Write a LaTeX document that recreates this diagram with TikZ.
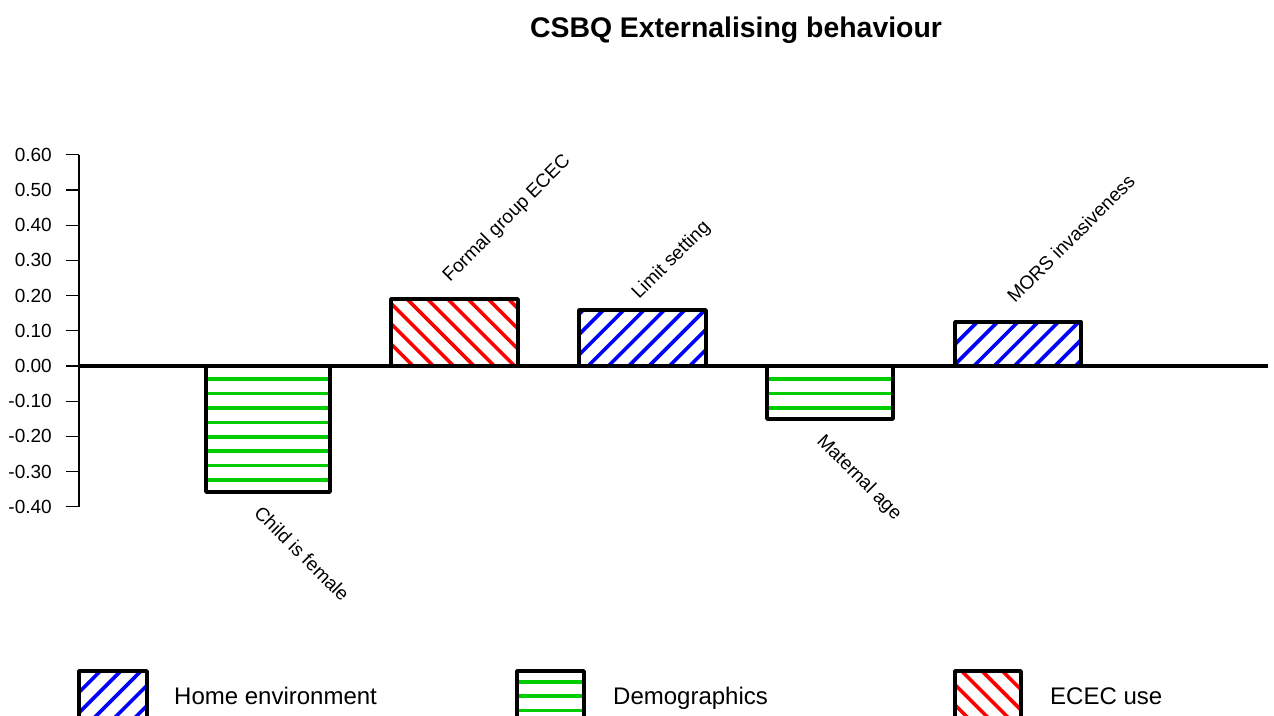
\documentclass[tikz,border=0pt]{standalone}
\usepackage{fontspec}
\setmainfont{Liberation Sans}
\definecolor{hgreen}{RGB}{0,205,0}
\definecolor{hblue}{RGB}{0,0,255}
\definecolor{hred}{RGB}{255,0,0}

% diagonal hatching "/" : lines x+y = c, clipped to the box (x0,y0)-(x1,y1)
\newcommand{\hatchup}[5]{%
  \begin{scope}
    \clip (#1,#2) rectangle (#3,#4);
    \pgfmathtruncatemacro{\kmin}{(#1+#2)/20.3-1}
    \pgfmathtruncatemacro{\kmax}{(#3+#4)/20.3+1}
    \foreach \k in {\kmin,...,\kmax}{
      \pgfmathsetmacro{\cc}{\k*20.3}
      \draw[hatchline,#5] ({\cc-#4},#4) -- ({\cc-#2},#2);
    }
  \end{scope}}
% diagonal hatching "\" : lines x-y = c
\newcommand{\hatchdown}[5]{%
  \begin{scope}
    \clip (#1,#2) rectangle (#3,#4);
    \pgfmathtruncatemacro{\kmin}{(#1-#4)/20.3-1}
    \pgfmathtruncatemacro{\kmax}{(#3-#2)/20.3+1}
    \foreach \k in {\kmin,...,\kmax}{
      \pgfmathsetmacro{\cc}{\k*20.3+6.5}
      \draw[hatchline,#5] ({\cc+#2},#2) -- ({\cc+#4},#4);
    }
  \end{scope}}

\begin{document}
\begin{tikzpicture}[x=1pt,y=-1pt,
  hatchline/.style={line width=3.6pt,line cap=butt},
  barframe/.style={draw=black,line width=3.8pt,line join=round},
  ticklabel/.style={anchor=east,inner sep=0pt,font=\fontsize{19}{22}\selectfont},
  barlabel/.style={anchor=base west,inner sep=0pt,font=\fontsize{19}{22}\selectfont},
  legendlabel/.style={anchor=base west,inner sep=0pt,font=\fontsize{24}{28}\selectfont}]
\clip (0,0) rectangle (1274,715);
\fill[white] (0,0) rectangle (1274,715);

% title
\node[anchor=base,inner sep=0pt,font=\bfseries\fontsize{28.4}{32}\selectfont] (title) at (736,37) {CSBQ Externalising behaviour};

% value axis
\draw[line width=1.3pt] (79,155) -- (79,507);
\foreach \v/\lab [count=\i] in {0.6/0.60,0.5/0.50,0.4/0.40,0.3/0.30,0.2/0.20,0.1/0.10,0/0.00,-0.1/-0.10,-0.2/-0.20,-0.3/-0.30,-0.4/-0.40}{
  \pgfmathsetmacro{\yy}{366-\v*352}
  \draw[line width=1.3pt] (66,\yy) -- (79,\yy);
  \node[ticklabel] (tick\i) at (52,\yy) {\lab};
}

% bars: Child is female (demographics)
\foreach \yy in {379,393.5,407.9,422.3,436.7,451.1,465.5,479.9}
  \draw[hatchline,hgreen] (206,\yy) -- (330,\yy);
\draw[barframe] (206,366) rectangle (330,492);

% Formal group ECEC (ECEC use)
\hatchdown{391}{299}{518}{366}{hred}
\draw[barframe] (391,299) rectangle (518,366);

% Limit setting (home environment)
\hatchup{579}{310}{706}{366}{hblue}
\draw[barframe] (579,310) rectangle (706,366);

% Maternal age (demographics)
\foreach \yy in {379,393.5,407.9}
  \draw[hatchline,hgreen] (767,\yy) -- (893,\yy);
\draw[barframe] (767,366) rectangle (893,419);

% MORS invasiveness (home environment)
\hatchup{955}{322}{1081}{366}{hblue}
\draw[barframe] (955,322) rectangle (1081,366);

% zero line
\draw[line width=4pt] (79,366) -- (1268,366);

% bar labels
\node[barlabel,rotate=-45] (lchild) at (253,514) {Child is female};
\node[barlabel,rotate=45] (lformal) at (450,283) {Formal group ECEC};
\node[barlabel,rotate=45] (llimit) at (639,300) {Limit setting};
\node[barlabel,rotate=-45] (lmaternal) at (816,442) {Maternal age};
\node[barlabel,rotate=45] (lmors) at (1015,304) {MORS invasiveness};

% legend
\hatchup{79}{671}{147}{722}{hblue}
\draw[barframe] (79,671) rectangle (147,722);
\node[legendlabel] (leghome) at (174,704) {Home environment};

\foreach \yy in {681.7,696,710.3}
  \draw[hatchline,hgreen] (517,\yy) -- (584,\yy);
\draw[barframe] (517,671) rectangle (584,722);
\node[legendlabel] (legdemo) at (613,704) {Demographics};

\hatchdown{955}{671}{1021}{722}{hred}
\draw[barframe] (955,671) rectangle (1021,722);
\node[legendlabel] (legecec) at (1050,704) {ECEC use};
\end{tikzpicture}
\end{document}
